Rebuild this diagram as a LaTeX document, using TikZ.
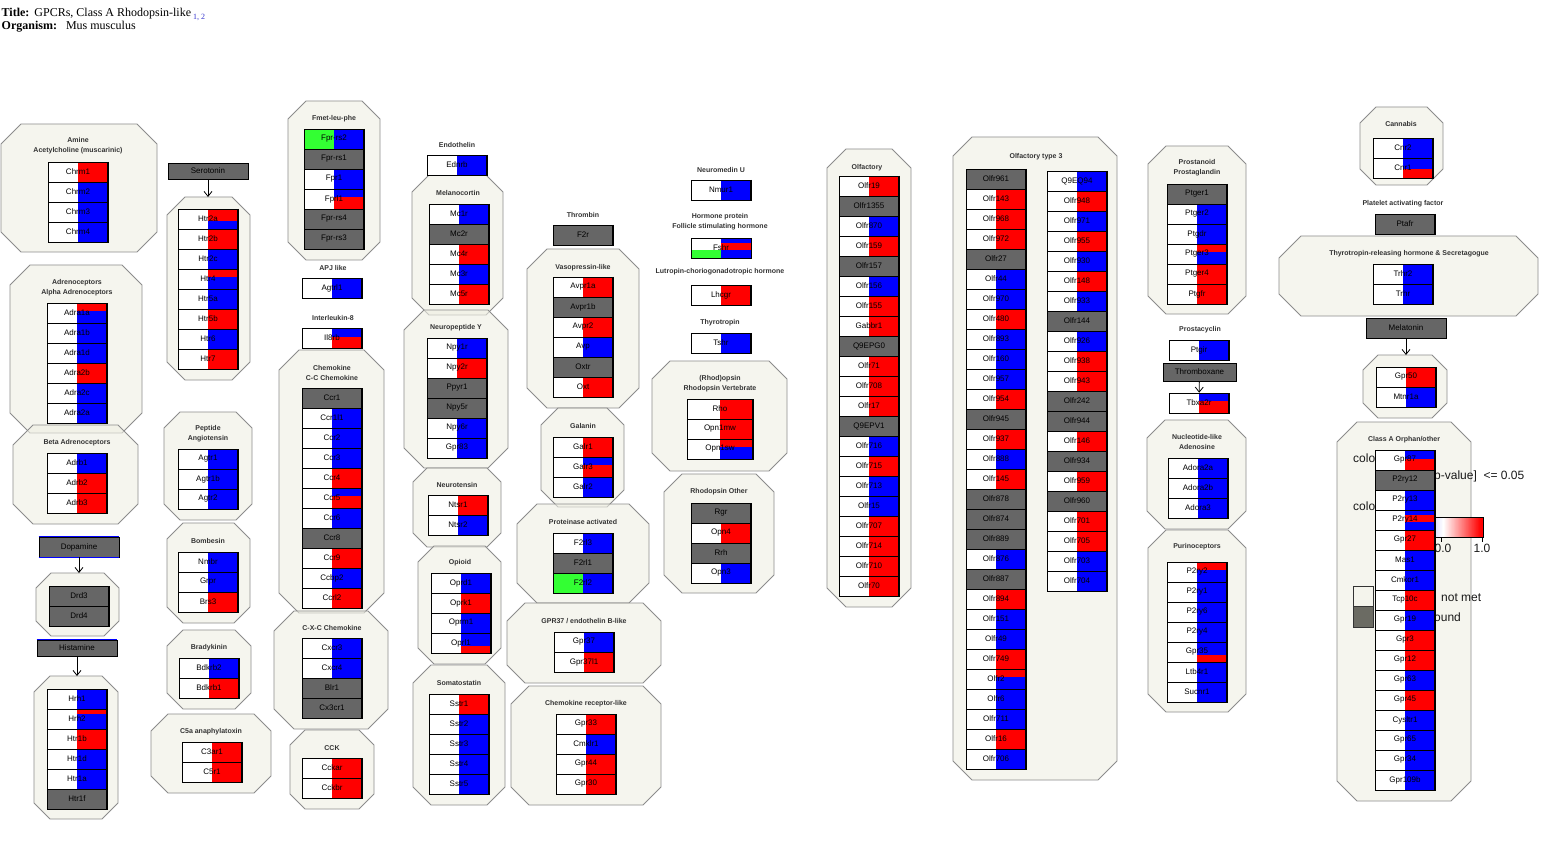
\documentclass[tikz,border=0pt]{standalone}
\usepackage{fontspec}
\setmainfont{Liberation Serif}
\setsansfont{Liberation Sans}
\usetikzlibrary{arrows.meta}
\definecolor{gR}{HTML}{FF0000}
\definecolor{gB}{HTML}{0000FF}
\definecolor{gG}{HTML}{666666}
\definecolor{gN}{HTML}{33FF33}
\definecolor{octfill}{RGB}{238,238,227}
\definecolor{octline}{HTML}{8C8C8C}
\definecolor{ttl}{HTML}{333333}
\definecolor{lnk}{HTML}{3333CC}
\definecolor{legbox}{HTML}{F4F4EC}
\definecolor{legdark}{HTML}{6B6B63}

% code: left colour, top colour, fraction, bottom colour, extra top band colour, band fraction
\def\defcd#1#2#3#4#5#6#7{\expandafter\def\csname cd@#1\endcsname{\def\cL{#2}\def\cT{#3}\def\cF{#4}\def\cBt{#5}\def\cX{#6}\def\cXf{#7}}}
\def\setcd#1{\csname cd@#1\endcsname}
\defcd{r}{white}{gR}{1}{gR}{gR}{0}
\defcd{b}{white}{gB}{1}{gB}{gB}{0}
\defcd{g}{gG}{gG}{1}{gG}{gG}{0}
\defcd{nb}{gN}{gB}{1}{gB}{gB}{0}
\defcd{rb25}{white}{gR}{0.25}{gB}{gR}{0}
\defcd{rb4}{white}{gR}{0.4}{gB}{gR}{0}
\defcd{rb6}{white}{gR}{0.62}{gB}{gR}{0}
\defcd{br4}{white}{gB}{0.42}{gR}{gB}{0}
\defcd{br45}{white}{gB}{0.45}{gR}{gB}{0}
\defcd{br55}{white}{gB}{0.55}{gR}{gB}{0}
\defcd{br65}{white}{gB}{0.63}{gR}{gB}{0}
\defcd{brb}{white}{gR}{0.6}{gB}{gB}{0.27}

\tikzset{
  grp/.style={draw=octline, line width=0.8pt, fill=octfill, fill opacity=0.6},
  gene/.style={draw=black, line width=0.6pt, minimum height=20, inner sep=0pt, font=\sffamily\fontsize{8}{9}\selectfont},
  gtitle/.style={font=\sffamily\bfseries\fontsize{7}{10}\selectfont, text=ttl, align=center, inner sep=0pt},
  lbl/.style={draw=black, fill=gG, line width=0.7pt, inner sep=0pt, font=\sffamily\fontsize{8}{9}\selectfont},
  arr/.style={-{Straight Barb[length=5pt,width=8pt]}, line width=0.8pt},
  legtext/.style={font=\sffamily\fontsize{12}{14}\selectfont, inner sep=0pt, text=black!90},
}

\newcommand\genecol[4][60]{%
  \foreach \nm/\cd [count=\k from 0] in {#4}{%
    \setcd{\cd}%
    \pgfmathsetmacro\yy{#3+20*\k}%
    \fill[\cL] (#2,\yy) rectangle ++(#1/2,20);
    \fill[\cT] (#2+#1/2,\yy) rectangle ++(#1/2,20*\cF);
    \fill[\cBt] (#2+#1/2,\yy+20*\cF) rectangle ++(#1/2,20-20*\cF);
    \fill[\cX] (#2+#1/2,\yy) rectangle ++(#1/2,20*\cXf);
    \node[gene,minimum width=#1] (\nm) at (#2+#1/2,\yy+10) {\nm};
    \draw[line width=1.2pt] (#2+#1,\yy) -- ++(0,20);
  }%
}

\newcommand\oct[6][18]{%
  \draw[grp] (#3+#1,#4) -- (#5-#1,#4) -- (#5,#4+#1) -- (#5,#6-#1) -- (#5-#1,#6) -- (#3+#1,#6) -- (#3,#6-#1) -- (#3,#4+#1) -- cycle;
  \coordinate (#2) at ({(#3+#5)/2},#4);
}

\begin{document}
\begin{tikzpicture}[x=1pt,y=-1pt]
\useasboundingbox (0,0) rectangle (1568,850);

% ---------- header ----------
\node[anchor=base west,inner sep=0pt,font=\fontsize{12}{14}\selectfont] (title) at (1.5,17) {\textbf{Title:}\hspace{5pt}GPCRs, Class A Rhodopsin-like\hspace{2pt}\raisebox{-2.5pt}{\fontsize{8}{8}\selectfont\color{lnk}1, 2}};
\node[anchor=base west,inner sep=0pt,font=\fontsize{12}{14}\selectfont] (organism) at (1.5,29.5) {\textbf{Organism:}\hspace{9pt}Mus musculus};

% ---------- groups ----------
\oct[20]{oAmine}{1}{124}{157}{252}
\oct{oSer}{167}{197}{250}{380}
\oct[20]{oAlpha}{10}{265}{142}{433}
\oct[20]{oBeta}{13}{425}{138}{524}
\oct[15]{oDop}{36}{573}{119}{636}
\oct[16]{oHis}{34}{676}{118}{819}
\oct[16]{oAng}{164}{412}{252}{520}
\oct[16]{oBomb}{167}{523}{250}{623}
\oct[16]{oBrad}{167}{630}{251}{709}
\oct[17]{oC5a}{151}{714}{271}{793}
\oct[18]{oFmet}{288}{101}{380}{260}
\oct[20]{oCC}{279}{350}{384}{613}
\oct[20]{oCXC}{274}{611}{388}{729}
\oct[15]{oCCK}{290}{730}{374}{809}
\oct[17]{oMel}{412}{175}{503}{315}
\oct[20]{oNPY}{404}{310}{508}{468}
\oct[14]{oNts}{413}{468}{501}{547}
\oct[16]{oOpi}{418}{546}{501}{664}
\oct[18]{oSst}{413}{665}{505}{805}
\oct[20]{oVas}{527}{249}{639}{408}
\oct[17]{oGal}{541}{408}{624}{507}
\oct[20]{oProt}{517}{504}{649}{603}
\oct[18]{oGpr37}{507}{603}{661}{683}
\oct[18]{oChemL}{511}{686}{661}{805}
\oct[18]{oRhoV}{652}{361}{787}{471}
\oct[18]{oRhoO}{664}{474}{774}{593}
\oct[19]{oOlf}{827}{149}{911}{607}
\oct[19]{oOlf3}{953}{137}{1117}{780}
\oct[18]{oPros}{1148}{146}{1246}{314}
\oct[18]{oNuc}{1147}{420}{1246}{529}
\oct[18]{oPur}{1148}{530}{1246}{712}
\oct[16]{oCann}{1360}{107}{1443}{185}
\oct[22]{oTrh}{1279}{236}{1538}{316}
\oct[15]{oMelt}{1363}{355}{1447}{418}
\oct[20]{oOrph}{1337}{422}{1471}{801}

% ---------- legend (partly hidden behind the orphan column) ----------
\node[legtext,anchor=base west] (leg1) at (1353,462) {colo};
\node[legtext,anchor=base west] (leg2) at (1434,479) {p-value]\ \ <= 0.05};
\node[legtext,anchor=base west] (leg3) at (1353,510) {colo};
\foreach \i in {0,...,79}{%
  \ifnum\i<40
    \pgfmathtruncatemacro\pp{(40-\i)*1.5}%
    \fill[gB!\pp!white] (1403+\i,517) rectangle ++(1.1,20);
  \else
    \pgfmathtruncatemacro\pp{min(100,(\i-40)*2.7)}%
    \fill[gR!\pp!white] (1403+\i,517) rectangle ++(1.1,20);
  \fi
}
\draw[line width=0.6pt] (1403,517) rectangle (1483,537);
\draw[line width=0.6pt] (1441,537) -- ++(0,5) (1482,537) -- ++(0,5);
\node[legtext] (leg00) at (1443,548) {0.0};
\node[legtext] (leg10) at (1482,548) {1.0};
\node[draw=black!80, fill=legbox, minimum width=20, minimum height=20, inner sep=0pt] (legA) at (1363,596) {};
\node[draw=black!80, fill=legdark, minimum width=20, minimum height=21, inner sep=0pt] (legB) at (1363,616.5) {};
\node[legtext,anchor=base west] (leg4) at (1441,601) {not met};
\node[legtext,anchor=base west] (leg5) at (1434,621) {ound};

% ---------- group titles ----------
\node[gtitle] (tAmine) at (78,146) {Amine\\Acetylcholine (muscarinic)};
\node[gtitle] (tAlpha) at (77,288) {Adrenoceptors\\Alpha Adrenoceptors};
\node[gtitle] (tBeta) at (77,443) {Beta Adrenoceptors};
\node[gtitle] (tAng) at (208,434) {Peptide\\Angiotensin};
\node[gtitle] (tBomb) at (208,541) {Bombesin};
\node[gtitle] (tBrad) at (209,648) {Bradykinin};
\node[gtitle] (tC5a) at (211,732) {C5a anaphylatoxin};
\node[gtitle] (tFmet) at (334,119) {Fmet-leu-phe};
\node[gtitle] (tAPJ) at (333,268) {APJ like};
\node[gtitle] (tIL8) at (333,318) {Interleukin-8};
\node[gtitle] (tCC) at (332,373) {Chemokine\\C-C Chemokine};
\node[gtitle] (tCXC) at (332,628) {C-X-C Chemokine};
\node[gtitle] (tCCK) at (332,748) {CCK};
\node[gtitle] (tEdn) at (457,145) {Endothelin};
\node[gtitle] (tMel) at (458,193) {Melanocortin};
\node[gtitle] (tNPY) at (456,328) {Neuropeptide Y};
\node[gtitle] (tNts) at (457,485) {Neurotensin};
\node[gtitle] (tOpi) at (460,563) {Opioid};
\node[gtitle] (tSst) at (459,683) {Somatostatin};
\node[gtitle] (tThr) at (583,215) {Thrombin};
\node[gtitle] (tVas) at (583,268) {Vasopressin-like};
\node[gtitle] (tGal) at (583,426) {Galanin};
\node[gtitle] (tProt) at (583,522) {Proteinase activated};
\node[gtitle] (tGpr37) at (584,621) {GPR37 / endothelin B-like};
\node[gtitle] (tChemL) at (586,704) {Chemokine receptor-like};
\node[gtitle] (tNmu) at (721,170) {Neuromedin U};
\node[gtitle] (tFsh) at (720,222) {Hormone protein\\Follicle stimulating hormone};
\node[gtitle] (tLh) at (720,272) {Lutropin-choriogonadotropic hormone};
\node[gtitle] (tTsh) at (720,323) {Thyrotropin};
\node[gtitle] (tRhoV) at (720,384) {(Rhod)opsin\\Rhodopsin Vertebrate};
\node[gtitle] (tRhoO) at (719,492) {Rhodopsin Other};
\node[gtitle] (tOlf) at (867,168) {Olfactory};
\node[gtitle] (tOlf3) at (1036,157) {Olfactory type 3};
\node[gtitle] (tPros) at (1197,168) {Prostanoid\\Prostaglandin};
\node[gtitle] (tPcy) at (1200,330) {Prostacyclin};
\node[gtitle] (tNuc) at (1197,442) {Nucleotide-like\\Adenosine};
\node[gtitle] (tPur) at (1197,547) {Purinoceptors};
\node[gtitle] (tCann) at (1401,124) {Cannabis};
\node[gtitle] (tPaf) at (1403,204) {Platelet activating factor};
\node[gtitle] (tTrh) at (1409,254) {Thyrotropin-releasing hormone \& Secretagogue};
\node[gtitle] (tOrph) at (1404,440) {Class A Orphan/other};

% ---------- ligand labels ----------
\node[lbl,minimum width=80,minimum height=16] (Serotonin) at (208,171) {Serotonin};
\node[lbl,minimum width=80,minimum height=20] (Dopamine) at (79,547) {Dopamine};
\draw[gB,line width=0.9pt] (Dopamine.north west) -- (Dopamine.north east) (Dopamine.south west) -- (Dopamine.south east);
\node[lbl,minimum width=80,minimum height=16] (Histamine) at (77,648) {Histamine};
\draw[gB,line width=0.9pt] (Histamine.north west) -- (Histamine.north east);
\node[lbl,minimum width=73,minimum height=18] (Thromboxane) at (1199.5,372) {Thromboxane};
\node[lbl,minimum width=80,minimum height=20] (Melatonin) at (1406,328) {Melatonin};

% ---------- genes ----------
\genecol{48}{162}{Chrm1/r,Chrm2/b,Chrm3/b,Chrm4/b}
\genecol{178}{209}{Htr2a/rb6,Htr2b/r,Htr2c/b,Htr4/rb4,Htr5a/b,Htr5b/r,Htr6/b,Htr7/r}
\genecol{47}{303}{Adra1a/rb4,Adra1b/b,Adra1d/b,Adra2b/r,Adra2c/b,Adra2a/b}
\genecol{47}{453}{Adrb1/b,Adrb2/r,Adrb3/r}
\genecol{49}{586}{Drd3/g,Drd4/g}
\genecol{47}{689}{Hrh1/b,Hrh2/rb25,Htr1b/r,Htr1d/b,Htr1a/b,Htr1f/g}
\genecol{178}{449}{Agtr1/b,Agtr1b/b,Agtr2/b}
\genecol{178}{552}{Nmbr/b,Grpr/b,Brs3/r}
\genecol{179}{658}{Bdkrb2/b,Bdkrb1/r}
\genecol{182}{742}{C3ar1/r,C5r1/r}
\genecol{304}{129}{Fpr-rs2/nb,Fpr-rs1/g,Fpr1/b,Fprl1/br4,Fpr-rs4/g,Fpr-rs3/g}
\genecol{302}{278}{Agtrl1/b}
\genecol{302}{328}{Il8rb/br45}
\genecol{302}{388}{Ccr1/g,Ccr1l1/b,Ccr2/b,Ccr3/b,Ccr4/r,Ccr5/br4,Ccr6/b,Ccr8/g,Ccr9/r,Ccbp2/b,Ccrl2/r}
\genecol{302}{638}{Cxcr3/b,Cxcr4/b,Blr1/g,Cx3cr1/g}
\genecol{302}{758}{Cckar/r,Cckbr/r}
\genecol{427}{155}{Ednrb/b}
\genecol{429}{204}{Mc1r/b,Mc2r/g,Mc4r/r,Mc3r/b,Mc5r/r}
\genecol{427}{338}{Npy1r/b,Npy2r/r,Ppyr1/g,Npy5r/g,Npy6r/b,Gpr83/b}
\genecol{428}{495}{Ntsr1/r,Ntsr2/b}
\genecol{431}{573}{Oprd1/b,Oprk1/r,Oprm1/b,Oprl1/br65}
\genecol{429}{694}{Sstr1/r,Sstr2/b,Sstr3/b,Sstr4/b,Sstr5/b}
\genecol{553}{225}{F2r/g}
\genecol{553}{277}{Avpr1a/r,Avpr1b/g,Avpr2/r,Avp/b,Oxtr/g,Oxt/r}
\genecol{553}{437}{Galr1/r,Galr3/br4,Galr2/b}
\genecol{553}{533}{F2rl3/b,F2rl1/g,F2rl2/nb}
\genecol{554}{632}{Gpr37/b,Gpr37l1/r}
\genecol{556}{714}{Gpr33/r,Cmklr1/b,Gpr44/r,Gpr30/r}
\genecol{691}{180}{Nmur1/b}
% Fshr (special colouring)
\fill[white] (691,238) rectangle (721,250.4);
\fill[gN] (691,250.4) rectangle (721,258);
\fill[gB] (721,238) rectangle (751,243);
\fill[gR] (721,243) rectangle (751,250.4);
\fill[gB] (721,250.4) rectangle (751,258);
\node[gene,minimum width=60] (Fshr) at (721,248) {Fshr};
\genecol{691}{285}{Lhcgr/r}
\genecol{691}{333}{Tshr/b}
\genecol[66]{687}{399}{Rho/r,Opn1mw/r,Opn1sw/rb4}
\genecol{691}{503}{Rgr/g,Opn4/r,Rrh/g,Opn3/b}
\genecol{839}{176}{Olfr19/r,Olfr1355/g,Olfr870/b,Olfr159/r,Olfr157/g,Olfr156/b,Olfr155/r,Gabbr1/r,Q9EPG0/g,Olfr71/r,Olfr708/r,Olfr17/r,Q9EPV1/g,Olfr716/b,Olfr715/r,Olfr713/b,Olfr15/b,Olfr707/r,Olfr714/r,Olfr710/r,Olfr70/r}
\genecol{966}{169}{Olfr961/g,Olfr143/r,Olfr968/r,Olfr972/r,Olfr27/g,Olfr44/b,Olfr970/b,Olfr480/r,Olfr893/b,Olfr160/b,Olfr957/b,Olfr954/r,Olfr945/g,Olfr937/r,Olfr888/b,Olfr145/r,Olfr878/g,Olfr874/g,Olfr889/g,Olfr876/b,Olfr887/g,Olfr894/r,Olfr151/b,Olfr49/b,Olfr749/r,Olfr2/rb4,Olfr6/b,Olfr711/b,Olfr16/r,Olfr706/b}
\genecol{1047}{171}{Q9EQ94/b,Olfr948/r,Olfr971/b,Olfr955/r,Olfr930/b,Olfr148/r,Olfr933/b,Olfr144/g,Olfr926/b,Olfr938/r,Olfr943/r,Olfr242/g,Olfr944/g,Olfr146/r,Olfr934/g,Olfr959/r,Olfr960/g,Olfr701/r,Olfr705/r,Olfr703/b,Olfr704/b}
\genecol{1167}{184}{Ptger1/g,Ptger2/b,Ptgdr/b,Ptger3/rb4,Ptger4/r,Ptgfr/r}
\genecol{1169}{340}{Ptgir/b}
\genecol{1169}{393}{Tbxa2r/br4}
\genecol{1168}{458}{Adora2a/b,Adora2b/b,Adora3/b}
\genecol{1167}{562}{P2ry2/rb4,P2ry1/b,P2ry6/b,P2ry4/b,Gpr35/br65,Ltb4r1/b,Sucnr1/b}
\genecol{1373}{138}{Cnr2/b,Cnr1/br55}
\genecol{1375}{214}{Ptafr/g}
\genecol{1373}{264}{Trhr2/b,Trhr/b}
\genecol{1376}{367}{Gpr50/r,Mtnr1a/b}
\genecol{1375}{450}{Gpr87/br45,P2ry12/g,P2ry13/b,P2ry14/brb,Gpr27/r,Mas1/b,Cmkor1/b,Tcp10c/r,Gpr19/b,Gpr3/r,Gpr12/r,Gpr63/b,Gpr45/r,Cysltr1/b,Gpr65/b,Gpr34/b,Gpr109b/b}

% ---------- arrows ----------
\draw[arr] (Serotonin) -- (Serotonin |- oSer);
\draw[arr] (Dopamine) -- (Dopamine |- oDop);
\draw[arr] (Histamine) -- (Histamine |- oHis);
\draw[arr] (Thromboxane) -- (Tbxa2r);
\draw[arr] (Melatonin) -- (Melatonin |- oMelt);
\end{tikzpicture}
\end{document}
